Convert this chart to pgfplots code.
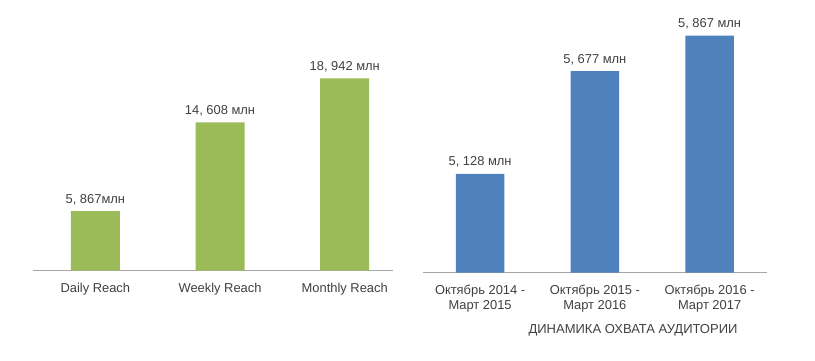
\documentclass[border=0pt]{standalone}
\usepackage{pgfplots}
\pgfplotsset{compat=1.18}
\usepackage{fontspec}
\setmainfont{Liberation Sans}
\definecolor{txt}{HTML}{404040}
\definecolor{gbar}{HTML}{9BBB59}
\definecolor{bbar}{HTML}{4F81BD}
\definecolor{axl}{HTML}{A6A6A6}
\begin{document}
\begin{tikzpicture}
\path[use as bounding box] (0pt,0pt) rectangle (815pt,360pt);
\pgfplotsset{
  common/.style={
    scale only axis,
    anchor=south west,
    ybar,
    axis x line=bottom,
    axis y line=none,
    x axis line style={-, draw=axl, line width=1pt},
    xtick=data,
    xtick style={draw=none},
    xmin=-0.5,
    ytick=\empty,
    font=\fontsize{13}{15}\selectfont,
    xticklabel style={anchor=north, yshift=-6.3pt, text=txt, align=center, font=\fontsize{12.9}{15}\selectfont},
    nodes near coords,
    point meta=explicit symbolic,
    every node near coord/.append style={anchor=base, yshift=8pt, text=txt, font=\fontsize{12.9}{15}\selectfont},
  }
}
\begin{axis}[common,
  at={(33pt,89.3pt)},
  width=360pt, height=243.6pt,
  xmax=2.387,
  ymin=0, ymax=24,
  bar width=49pt,
  xticklabels={Daily Reach, Weekly Reach, Monthly Reach},
]
\addplot[fill=gbar, draw=none] coordinates {
  (0,5.867) [{5, 867млн}]
  (1,14.608) [{14, 608 млн}]
  (2,18.942) [{18, 942 млн}]
};
\end{axis}
\begin{axis}[common,
  at={(422.7pt,87.3pt)},
  width=344.3pt, height=262pt,
  xmax=2.5,
  ymin=4.6, ymax=6.0,
  bar width=48.5pt,
  xticklabels={{Октябрь 2014 -\\Март 2015}, {Октябрь 2015 -\\Март 2016}, {Октябрь 2016 -\\Март 2017}},
]
\addplot[fill=bbar, draw=none] coordinates {
  (0,5.128) [{5, 128 млн}]
  (1,5.677) [{5, 677 млн}]
  (2,5.867) [{5, 867 млн}]
};
\end{axis}
\node[text=txt, font=\fontsize{13}{15}\selectfont] at (633pt,29.5pt) {ДИНАМИКА ОХВАТА АУДИТОРИИ};
\end{tikzpicture}
\end{document}
